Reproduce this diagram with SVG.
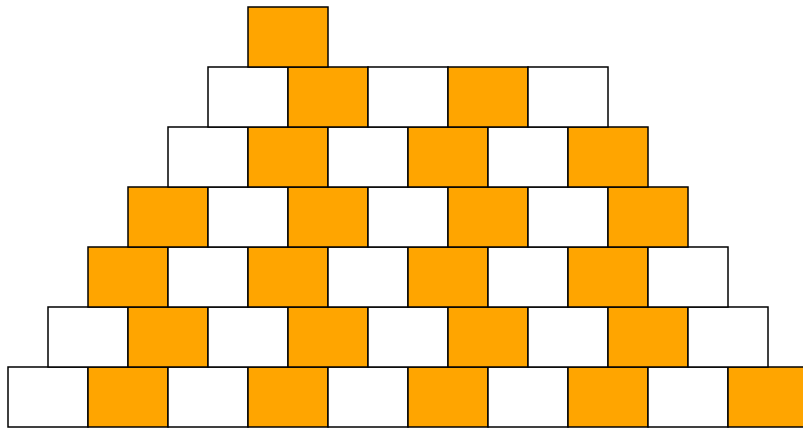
<svg xmlns="http://www.w3.org/2000/svg" width="803" height="430" viewBox="0 0 803 430">
<style>
.w,.o{stroke:#000;stroke-width:1.5}
.w{fill:#fff}
.o{fill:#ffa500}
</style>
<rect width="803" height="430" fill="#fff"/>
<g id="row1">
<rect class="w" x="8" y="367" width="80" height="60"/>
<rect class="o" x="88" y="367" width="80" height="60"/>
<rect class="w" x="168" y="367" width="80" height="60"/>
<rect class="o" x="248" y="367" width="80" height="60"/>
<rect class="w" x="328" y="367" width="80" height="60"/>
<rect class="o" x="408" y="367" width="80" height="60"/>
<rect class="w" x="488" y="367" width="80" height="60"/>
<rect class="o" x="568" y="367" width="80" height="60"/>
<rect class="w" x="648" y="367" width="80" height="60"/>
<rect class="o" x="728" y="367" width="80" height="60"/>
</g>
<g id="row2">
<rect class="w" x="48" y="307" width="80" height="60"/>
<rect class="o" x="128" y="307" width="80" height="60"/>
<rect class="w" x="208" y="307" width="80" height="60"/>
<rect class="o" x="288" y="307" width="80" height="60"/>
<rect class="w" x="368" y="307" width="80" height="60"/>
<rect class="o" x="448" y="307" width="80" height="60"/>
<rect class="w" x="528" y="307" width="80" height="60"/>
<rect class="o" x="608" y="307" width="80" height="60"/>
<rect class="w" x="688" y="307" width="80" height="60"/>
</g>
<g id="row3">
<rect class="o" x="88" y="247" width="80" height="60"/>
<rect class="w" x="168" y="247" width="80" height="60"/>
<rect class="o" x="248" y="247" width="80" height="60"/>
<rect class="w" x="328" y="247" width="80" height="60"/>
<rect class="o" x="408" y="247" width="80" height="60"/>
<rect class="w" x="488" y="247" width="80" height="60"/>
<rect class="o" x="568" y="247" width="80" height="60"/>
<rect class="w" x="648" y="247" width="80" height="60"/>
</g>
<g id="row4">
<rect class="o" x="128" y="187" width="80" height="60"/>
<rect class="w" x="208" y="187" width="80" height="60"/>
<rect class="o" x="288" y="187" width="80" height="60"/>
<rect class="w" x="368" y="187" width="80" height="60"/>
<rect class="o" x="448" y="187" width="80" height="60"/>
<rect class="w" x="528" y="187" width="80" height="60"/>
<rect class="o" x="608" y="187" width="80" height="60"/>
</g>
<g id="row5">
<rect class="w" x="168" y="127" width="80" height="60"/>
<rect class="o" x="248" y="127" width="80" height="60"/>
<rect class="w" x="328" y="127" width="80" height="60"/>
<rect class="o" x="408" y="127" width="80" height="60"/>
<rect class="w" x="488" y="127" width="80" height="60"/>
<rect class="o" x="568" y="127" width="80" height="60"/>
</g>
<g id="row6">
<rect class="w" x="208" y="67" width="80" height="60"/>
<rect class="o" x="288" y="67" width="80" height="60"/>
<rect class="w" x="368" y="67" width="80" height="60"/>
<rect class="o" x="448" y="67" width="80" height="60"/>
<rect class="w" x="528" y="67" width="80" height="60"/>
</g>
<g id="row7">
<rect class="o" x="248" y="7" width="80" height="60"/>
</g>
</svg>
